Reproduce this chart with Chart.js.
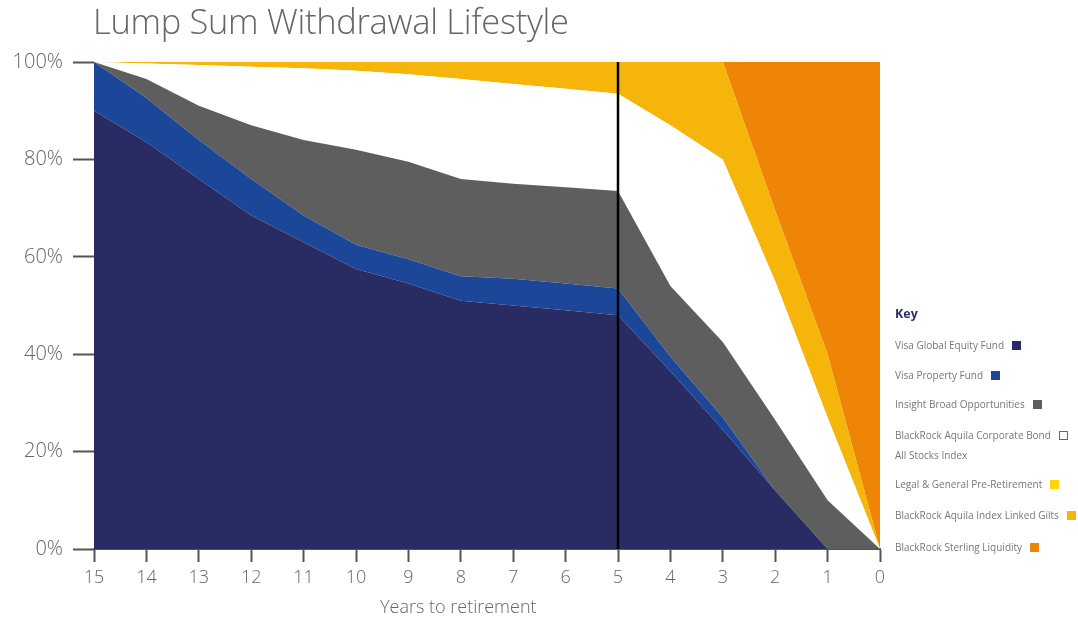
<!DOCTYPE html>
<html>
<head>
<meta charset="utf-8">
<script src="https://cdn.jsdelivr.net/npm/chart.js@4"></script>
<style>
  body { margin: 0; background: #fff; font-family: "Open Sans", sans-serif; }
  #wrap { position: relative; width: 1078px; height: 621px; }
  #monthlyChart { position: absolute; left: 0; top: 0; }
  .title { position: absolute; left: 93px; top: -3px; font-size: 34.5px; font-weight: 300; color: #666; letter-spacing: -0.3px; }
  .xtitle { position: absolute; left: 380px; top: 594px; font-size: 18px; font-weight: 300; color: #666; }
  .key { position: absolute; left: 895px; top: 0; font-size: 10px; color: #777; }
  .key div { position: absolute; white-space: nowrap; }
  .key span.sq { display: inline-block; width: 9px; height: 9px; margin-left: 8px; vertical-align: -1px; }
  .key .head { font-size: 12.5px; font-weight: 700; color: #2b2f6b; }
</style>
</head>
<body>
<div id="wrap">
  <canvas id="monthlyChart" width="1078" height="621"></canvas>
  <div class="title">Lump Sum Withdrawal Lifestyle</div>
  <div class="xtitle">Years to retirement</div>
  <div class="key" id="key"></div>
</div>
<script>
// years to retirement, left to right
const years = ["15", "14", "13", "12", "11", "10", "9", "8", "7", "6", "5", "4", "3", "2", "1", "0"];
const yTicks = [0, 20, 40, 60, 80, 100];

// allocation per fund (%)
const globalEquity = [90, 83.5, 76, 68.5, 63, 57.5, 54.5, 51, 50, 49, 48, 36.5, 24.5, 12, 0, 0];
const property     = [10, 9.1, 8, 7.5, 5.5, 5, 5, 5, 5.5, 5.5, 5.5, 3, 2.5, 0, 0, 0];
const insight      = [0, 3.9, 7, 11, 15.5, 19.5, 20, 20, 19.5, 19.8, 20, 14.5, 15.5, 14.5, 10, 0];
const corpBond     = [0, 3.2, 8.4, 12, 14.7, 16.2, 18, 20.5, 20.5, 20.2, 20, 33, 37.5, 28.5, 17, 0];
const preRetire    = [0, 0, 0, 0, 0, 0, 0, 0, 0, 0, 0, 0, 0, 0, 0, 0];
const linkedGilts  = [0, 0.3, 0.6, 1, 1.3, 1.8, 2.5, 3.5, 4.5, 5.5, 6.5, 13, 20, 14.5, 13, 0];
const liquidity    = [0, 0, 0, 0, 0, 0, 0, 0, 0, 0, 0, 0, 0, 30.5, 60, 100];

const funds = [
  { label: "Visa Global Equity Fund", data: globalEquity, color: "#292c63" },
  { label: "Visa Property Fund", data: property, color: "#1c4698" },
  { label: "Insight Broad Opportunities", data: insight, color: "#5e5e5e" },
  { label: "BlackRock Aquila Corporate Bond All Stocks Index", data: corpBond, color: "#ffffff" },
  { label: "Legal & General Pre-Retirement", data: preRetire, color: "#ffd400" },
  { label: "BlackRock Aquila Index Linked Gilts", data: linkedGilts, color: "#f6b50a" },
  { label: "BlackRock Sterling Liquidity", data: liquidity, color: "#ef8507" }
];

// key on the right
const keyItems = [
  { text: "Key", y: 305, head: true },
  { text: "Visa Global Equity Fund", y: 338, color: "#292c63" },
  { text: "Visa Property Fund", y: 368, color: "#1c4698" },
  { text: "Insight Broad Opportunities", y: 397, color: "#5e5e5e" },
  { text: "BlackRock Aquila Corporate Bond", y: 428, color: "#ffffff", border: true },
  { text: "All Stocks Index", y: 448 },
  { text: "Legal & General Pre-Retirement", y: 477, color: "#ffd400" },
  { text: "BlackRock Aquila Index Linked Gilts", y: 508, color: "#f6b50a" },
  { text: "BlackRock Sterling Liquidity", y: 540, color: "#ef8507" }
];
const key = document.getElementById('key');
keyItems.forEach(k => {
  const d = document.createElement('div');
  d.style.top = k.y + 'px';
  d.textContent = k.text;
  if (k.head) d.className = 'head';
  if (k.color) {
    const s = document.createElement('span');
    s.className = 'sq';
    s.style.background = k.color;
    if (k.border) { s.style.boxSizing = 'border-box'; s.style.border = '1.5px solid #666'; }
    d.appendChild(s);
  }
  key.appendChild(d);
});

const retireLine = {
  id: 'retireLine',
  afterDatasetsDraw(chart) {
    const x = chart.scales.x.getPixelForValue(years.indexOf("5"));
    const c = chart.ctx;
    c.save();
    c.strokeStyle = '#000';
    c.lineWidth = 2.5;
    c.beginPath();
    c.moveTo(x, chart.chartArea.top);
    c.lineTo(x, chart.chartArea.bottom);
    c.stroke();
    c.restore();
  }
};

const ctx = document.getElementById('monthlyChart').getContext('2d');

const chart = new Chart(ctx, {
  type: 'line',
  data: {
    labels: years,
    datasets: funds.map((f, i) => ({
      label: f.label,
      data: f.data,
      backgroundColor: f.color,
      borderWidth: 0,
      pointRadius: 0,
      tension: 0,
      fill: i === 0 ? 'origin' : '-1'
    }))
  },
  options: {
    responsive: false,
    animation: false,
    layout: { padding: { top: 62, right: 198, left: 0, bottom: 0 } },
    plugins: { legend: { display: false }, tooltip: { enabled: false } },
    scales: {
      x: {
        offset: false,
        afterFit(s) { s.height = 72; },
        grid: { drawOnChartArea: false, tickLength: 13, tickWidth: 2, color: '#555' },
        border: { display: true, color: '#555', width: 2 },
        ticks: { color: '#666', padding: 5, maxRotation: 0, autoSkip: false,
                 font: { family: 'Open Sans', size: 18, weight: 300 } }
      },
      y: {
        stacked: true,
        min: 0,
        max: 100,
        afterFit(s) { s.width = 94; },
        afterBuildTicks(s) { s.ticks = yTicks.map(v => ({ value: v })); },
        grid: { drawOnChartArea: false, tickLength: 21, tickWidth: 2, color: '#555' },
        border: { display: false },
        ticks: { color: '#666', padding: 10, callback: v => v + '%',
                 font: { family: 'Open Sans', size: 20, weight: 300 } }
      }
    }
  },
  plugins: [retireLine]
});
</script>
</body>
</html>
